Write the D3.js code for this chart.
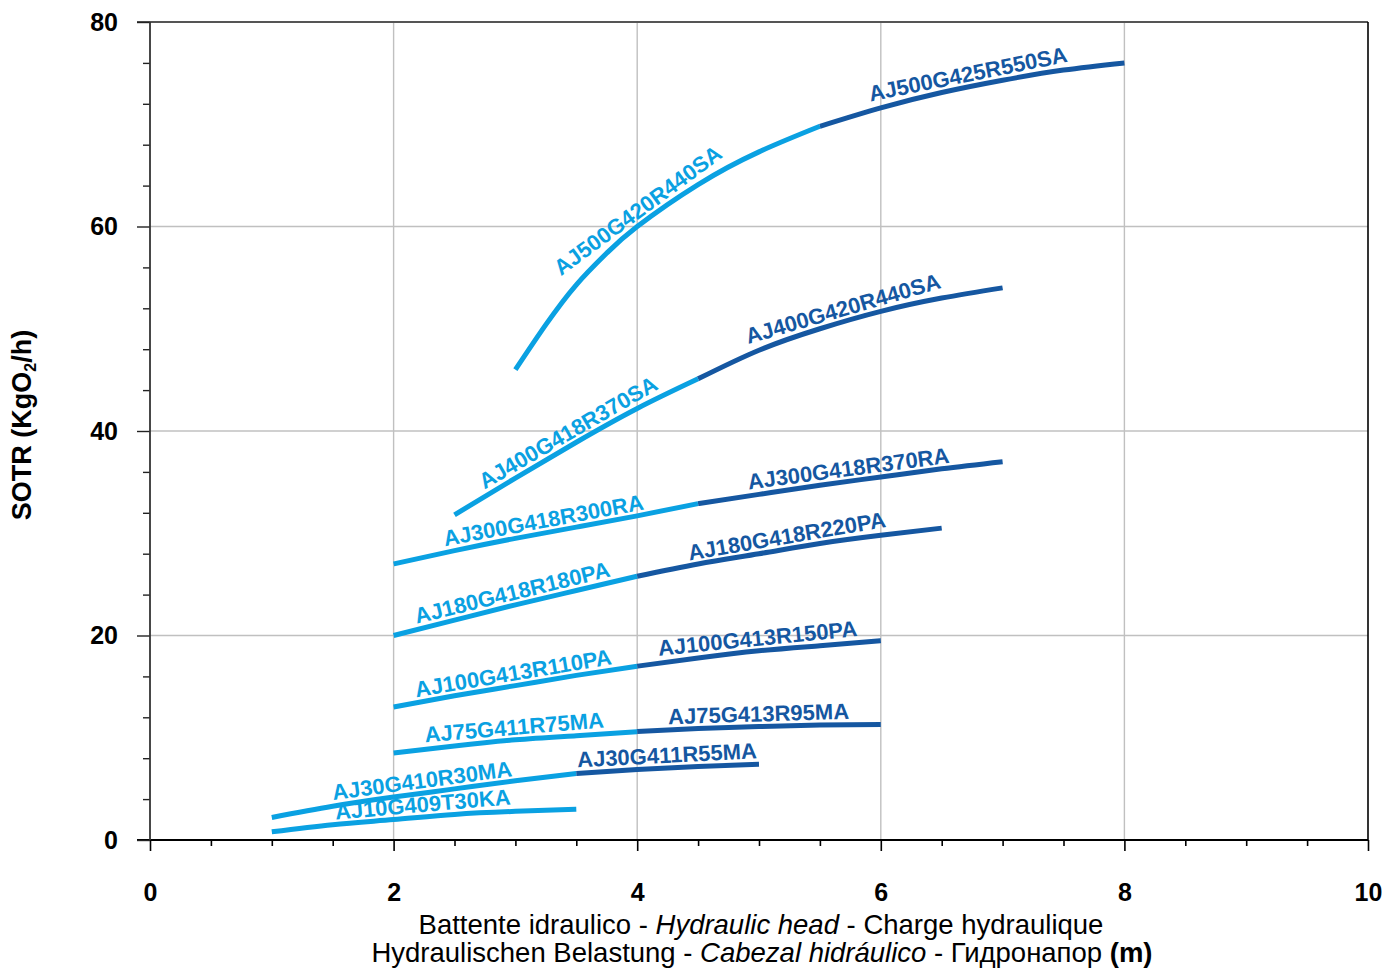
<!DOCTYPE html>
<html>
<head>
<meta charset="utf-8">
<script src="https://cdn.jsdelivr.net/npm/d3@7"></script>
<style>
  html, body { margin: 0; padding: 0; background: #fff; }
  svg { display: block; font-family: "Liberation Sans", Arial, Helvetica, sans-serif; }
</style>
</head>
<body>
<svg id="chart" width="1399" height="969"></svg>
<script>
// ---------------- data ----------------
const xMajorTicks = [0, 2, 4, 6, 8, 10];
const yMajorTicks = [0, 20, 40, 60, 80];

const segmentNames = [
  "AJ10G409T30KA",
  "AJ30G410R30MA", "AJ30G411R55MA",
  "AJ75G411R75MA", "AJ75G413R95MA",
  "AJ100G413R110PA", "AJ100G413R150PA",
  "AJ180G418R180PA", "AJ180G418R220PA",
  "AJ300G418R300RA", "AJ300G418R370RA",
  "AJ400G418R370SA", "AJ400G420R440SA",
  "AJ500G420R440SA", "AJ500G425R550SA"
];
const segmentTones = [
  "light",
  "light", "dark",
  "light", "dark",
  "light", "dark",
  "light", "dark",
  "light", "dark",
  "light", "dark",
  "light", "dark"
];
// hydraulic head (m)
const segmentHead = [
  [1, 1.5, 2, 2.5, 3, 3.5],
  [1, 1.5, 2, 2.5, 3, 3.5], [3.5, 4, 4.5, 5],
  [2, 2.5, 3, 3.5, 4], [4, 4.5, 5, 5.5, 6],
  [2, 2.5, 3, 3.5, 4], [4, 4.5, 5, 5.5, 6],
  [2, 2.5, 3, 3.5, 4], [4, 4.5, 5, 5.5, 6, 6.5],
  [2, 2.5, 3, 3.5, 4, 4.5], [4.5, 5, 5.5, 6, 6.5, 7],
  [2.5, 3, 3.5, 4, 4.5], [4.5, 5, 5.5, 6, 6.5, 7],
  [3, 3.25, 3.5, 3.75, 4, 4.5, 5, 5.5], [5.5, 6, 6.5, 7, 7.5, 8]
];
// SOTR (KgO2/h)
const segmentSOTR = [
  [0.8, 1.5, 2.0, 2.5, 2.8, 3.0],
  [2.2, 3.3, 4.2, 5.0, 5.8, 6.5], [6.5, 6.9, 7.2, 7.4],
  [8.5, 9.2, 9.8, 10.2, 10.6], [10.6, 10.9, 11.1, 11.25, 11.3],
  [13.0, 14.1, 15.1, 16.1, 17.0], [17.0, 17.8, 18.5, 19.0, 19.5],
  [20.0, 21.5, 23.0, 24.4, 25.8], [25.8, 27.0, 28.0, 29.0, 29.8, 30.5],
  [27.0, 28.3, 29.5, 30.6, 31.7, 32.9], [32.9, 33.8, 34.7, 35.5, 36.3, 37.0],
  [31.8, 35.4, 38.9, 42.2, 45.1], [45.1, 47.9, 50.0, 51.7, 53.0, 54.0],
  [46.0, 50.4, 54.3, 57.4, 60.0, 64.1, 67.3, 69.8], [69.8, 71.6, 73.1, 74.3, 75.3, 76.0]
];

// ---------------- layout ----------------
const colors = { light: "#0aa1e2", dark: "#1557a1" };
const svg = d3.select("#chart");
const pLeft = 150, pRight = 1368, pTop = 22, pBottom = 840;

const x = d3.scaleLinear().domain([0, 10]).range([pLeft, pRight]);
const y = d3.scaleLinear().domain([0, 80]).range([pBottom, pTop]);

// grid
const grid = svg.append("g");
grid.selectAll("line.v").data([2, 4, 6, 8]).join("line")
  .attr("x1", d => x(d)).attr("x2", d => x(d))
  .attr("y1", pTop).attr("y2", pBottom)
  .attr("stroke", "#c0c0c0").attr("stroke-width", 1.4);
grid.selectAll("line.h").data([20, 40, 60]).join("line")
  .attr("x1", pLeft).attr("x2", pRight)
  .attr("y1", d => y(d)).attr("y2", d => y(d))
  .attr("stroke", "#c0c0c0").attr("stroke-width", 1.4);

// curves
const line = d3.line().x(d => x(d[0])).y(d => y(d[1])).curve(d3.curveNatural);
const curves = svg.append("g");
const labels = svg.append("g");

segmentNames.forEach((name, i) => {
  const pts = segmentHead[i].map((h, k) => [h, segmentSOTR[i][k]]);
  const col = colors[segmentTones[i]];
  const path = curves.append("path")
    .attr("d", line(pts))
    .attr("fill", "none")
    .attr("stroke", col)
    .attr("stroke-width", 5)
    .attr("stroke-linecap", "butt");
  const node = path.node();
  const L = node.getTotalLength();
  const m = node.getPointAtLength(L / 2);
  const a = node.getPointAtLength(Math.max(0, L / 2 - 8));
  const b = node.getPointAtLength(Math.min(L, L / 2 + 8));
  const ang = Math.atan2(b.y - a.y, b.x - a.x) * 180 / Math.PI;
  labels.append("text")
    .attr("transform", `translate(${m.x},${m.y}) rotate(${ang})`)
    .attr("y", -5)
    .attr("text-anchor", "middle")
    .attr("font-size", 22)
    .attr("font-weight", "bold")
    .attr("fill", col)
    .text(name);
});

// frame: top and right
svg.append("line").attr("x1", pLeft - 13).attr("x2", pRight).attr("y1", pTop).attr("y2", pTop)
  .attr("stroke", "#555").attr("stroke-width", 2);
svg.append("line").attr("x1", pRight).attr("x2", pRight).attr("y1", pTop).attr("y2", pBottom)
  .attr("stroke", "#000").attr("stroke-width", 1.6);

// axes
const xMinor = d3.range(0, 10.01, 0.5).filter(v => !xMajorTicks.includes(v));
const yMinor = d3.range(0, 80.01, 4).filter(v => !yMajorTicks.includes(v));

const gx = svg.append("g").attr("transform", `translate(0,${pBottom})`);
gx.append("g").call(d3.axisBottom(x).tickValues(xMinor).tickSize(6).tickFormat(""));
gx.append("g").call(d3.axisBottom(x).tickValues(xMajorTicks).tickSize(11).tickPadding(32).tickFormat(d3.format("d")));
gx.selectAll(".domain").remove();
gx.selectAll("line").attr("stroke", "#000").attr("stroke-width", 1.6);
gx.selectAll("text").attr("font-size", 25).attr("font-weight", "bold").attr("fill", "#000")
  .attr("font-family", "Liberation Sans, Arial, sans-serif");
svg.append("line").attr("x1", pLeft - 13).attr("x2", pRight).attr("y1", pBottom).attr("y2", pBottom)
  .attr("stroke", "#000").attr("stroke-width", 1.8);

const gy = svg.append("g").attr("transform", `translate(${pLeft},0)`);
gy.append("g").call(d3.axisLeft(y).tickValues(yMinor).tickSize(7).tickFormat(""));
gy.append("g").call(d3.axisLeft(y).tickValues(yMajorTicks).tickSize(13).tickPadding(19).tickFormat(d3.format("d")));
gy.selectAll(".domain").remove();
gy.selectAll("line").attr("stroke", "#222").attr("stroke-width", 1.4);
gy.selectAll("text").attr("font-size", 25).attr("font-weight", "bold").attr("fill", "#000")
  .attr("font-family", "Liberation Sans, Arial, sans-serif");
svg.append("line").attr("x1", pLeft).attr("x2", pLeft).attr("y1", pTop).attr("y2", pBottom)
  .attr("stroke", "#333").attr("stroke-width", 1.8);

// y title
const yt = svg.append("text")
  .attr("transform", "translate(31,425) rotate(-90)")
  .attr("text-anchor", "middle")
  .attr("font-size", 27).attr("font-weight", "bold").attr("fill", "#000");
yt.append("tspan").text("SOTR (KgO");
yt.append("tspan").attr("font-size", 16).attr("dy", 5).text("2");
yt.append("tspan").attr("dy", -5).text("/h)");

// x title
const xt1 = svg.append("text").attr("x", (pLeft + pRight) / 2 + 2).attr("y", 934)
  .attr("text-anchor", "middle").attr("font-size", 27.5).attr("fill", "#000");
xt1.append("tspan").text("Battente idraulico - ");
xt1.append("tspan").attr("font-style", "italic").text("Hydraulic head");
xt1.append("tspan").text(" - Charge hydraulique");

const xt2 = svg.append("text").attr("x", (pLeft + pRight) / 2 + 3).attr("y", 962)
  .attr("text-anchor", "middle").attr("font-size", 27.5).attr("fill", "#000");
xt2.append("tspan").text("Hydraulischen Belastung - ");
xt2.append("tspan").attr("font-style", "italic").text("Cabezal hidráulico");
xt2.append("tspan").text(" - Гидронапор ");
xt2.append("tspan").attr("font-weight", "bold").text("(m)");
</script>
</body>
</html>
